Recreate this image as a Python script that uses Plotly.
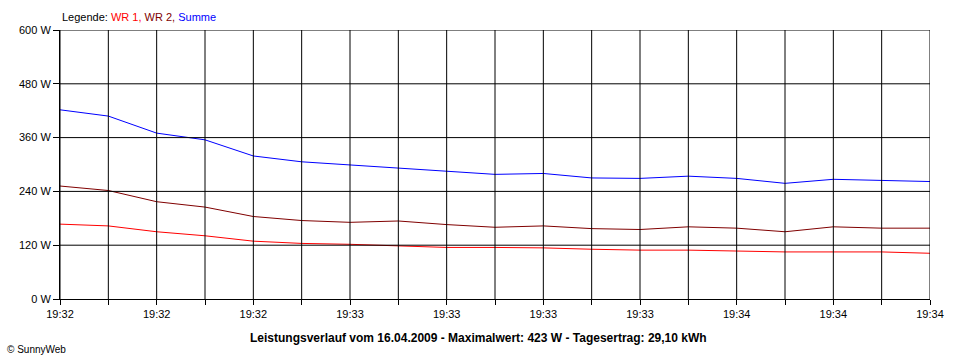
import plotly.graph_objects as go

# x positions: one sample per grid column (19 samples)
x_idx = list(range(19))
tick_labels = ["19:32", "", "19:32", "", "19:32", "", "19:33", "", "19:33", "",
               "19:33", "", "19:33", "", "19:34", "", "19:34", "", "19:34"]

wr1 = [167, 163, 150, 141, 129, 124, 122, 119, 115, 115, 114, 111, 109, 109, 107, 105, 105, 105, 102]
wr2 = [252, 242, 217, 205, 184, 175, 171, 174, 166, 160, 163, 157, 155, 161, 158, 150, 161, 158, 158]
summe = [422, 408, 370, 355, 319, 306, 299, 292, 285, 278, 280, 270, 269, 274, 269, 258, 267, 265, 262]

y_ticks = [0, 120, 240, 360, 480, 600]
y_labels = ["0 W", "120 W", "240 W", "360 W", "480 W", "600 W"]

fig = go.Figure()
fig.add_trace(go.Scatter(x=x_idx, y=wr1, mode="lines", line=dict(color="#FF0000", width=1), name="WR 1"))
fig.add_trace(go.Scatter(x=x_idx, y=wr2, mode="lines", line=dict(color="#800000", width=1), name="WR 2"))
fig.add_trace(go.Scatter(x=x_idx, y=summe, mode="lines", line=dict(color="#0000FF", width=1), name="Summe"))

font = dict(family="Liberation Sans, Arial, sans-serif", size=11, color="black")

fig.update_layout(
    width=960, height=360,
    margin=dict(l=60, r=30, t=30, b=61),
    paper_bgcolor="white", plot_bgcolor="white",
    showlegend=False,
    font=font,
    xaxis=dict(range=[0, 18], tickmode="array", tickvals=x_idx, ticktext=tick_labels,
               showgrid=False,
               showline=True, linecolor="black", linewidth=1,
               ticks="outside", ticklen=5, tickcolor="black", zeroline=False, tickfont=font),
    yaxis=dict(range=[0, 600], tickmode="array", tickvals=y_ticks, ticktext=y_labels,
               showgrid=False,
               showline=True, linecolor="black", linewidth=1,
               ticks="outside", ticklen=6, tickcolor="black", zeroline=False, tickfont=font),
)

# grid lines drawn above the data lines (as in the reference), at the tick positions
for xv in x_idx:
    fig.add_shape(type="line", xref="x", yref="paper", x0=xv, x1=xv, y0=0, y1=1,
                  line=dict(color="black", width=1), layer="above")
for yv in y_ticks[1:]:
    fig.add_shape(type="line", xref="paper", yref="y", x0=0, x1=1, y0=yv, y1=yv,
                  line=dict(color="black", width=1), layer="above")

fig.add_annotation(
    xref="paper", yref="paper", x=0.0, y=1.0, xanchor="left", yanchor="bottom", yshift=5, xshift=0,
    showarrow=False, align="left",
    text="Legende: <span style='color:#FF0000'>WR 1,</span> <span style='color:#800000'>WR 2,</span> <span style='color:#0000FF'>Summe</span>",
    font=font,
)
fig.add_annotation(
    xref="paper", yref="paper", x=0.481, y=0, xanchor="center", yanchor="top", yshift=-30,
    showarrow=False,
    text="<b>Leistungsverlauf vom 16.04.2009 - Maximalwert: 423 W - Tagesertrag: 29,10 kWh</b>",
    font=dict(family="Liberation Sans, Arial, sans-serif", size=12, color="black"),
)
fig.add_annotation(
    xref="paper", yref="paper", x=-0.063, y=0, xanchor="left", yanchor="top", yshift=-43,
    showarrow=False,
    text="© SunnyWeb",
    font=dict(family="Liberation Sans, Arial, sans-serif", size=10, color="black"),
)

fig.write_html("out.html", config={"displayModeBar": False},
               post_script="document.body.style.margin='0';")
